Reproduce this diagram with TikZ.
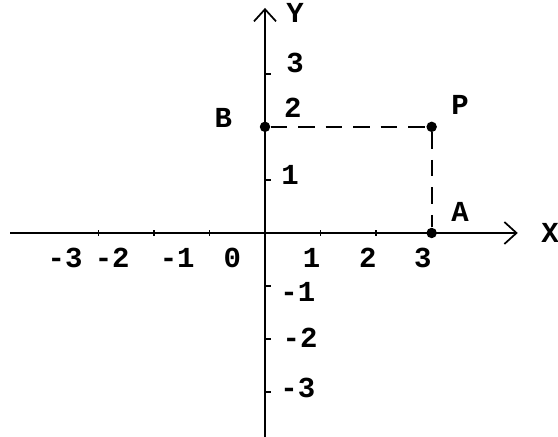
\documentclass[tikz,border=0pt]{standalone}
\usepackage{fontspec}
\setmonofont{Liberation Mono}
\usetikzlibrary{arrows.meta}

\begin{document}
\begin{tikzpicture}[
    x=1.01cm, y=0.965cm,
    axis/.style={line width=0.9pt, -{Straight Barb[length=2.2mm, width=4mm, line width=0.9pt]}},
    guide/.style={line width=0.9pt, dash pattern=on 3mm off 2mm},
    tickmark/.style={line width=0.8pt},
    dot/.style={circle, fill=black, inner sep=0pt, minimum size=1.9mm},
    lbl/.style={font=\ttfamily\bfseries\fontsize{15}{18}\selectfont, inner sep=0pt}
]
    \useasboundingbox (-4.818cm,-3.709cm) rectangle (5.327cm,4.236cm);

    % Axes
    \coordinate (xl) at (-4.59,0);
    \coordinate (xr) at (4.55,0);
    \coordinate (yb) at (0,-3.84);
    \coordinate (yt) at (0,4.24);
    \draw[axis] (xl) -- (xr);
    \draw[axis] (yb) -- (yt);
    \node[lbl] (labX) at (5.13,0) {X};
    \node[lbl] (labY) at (0.54,4.15) {Y};

    % Ticks
    \foreach \i in {-3,-2,-1,1,2}
        \draw[tickmark] (\i,-0.05) -- (\i,0.05);
    \foreach \j in {-3,-2,-1,1,3}
        \draw[tickmark] (0,\j) -- (0.1,\j);

    % Numbers
    \foreach \n/\px [count=\k] in {-3/-3.6, -2/-2.75, -1/-1.58, 0/-0.59, 1/0.84, 2/1.85, 3/2.84}
        \node[lbl] (xnum\k) at (\px,-0.47) {\n};
    \foreach \n/\py/\px [count=\k] in {3/3.2/0.54, 2/2.35/0.5, 1/1.09/0.45, -1/-1.11/0.59, -2/-1.98/0.63, -3/-2.92/0.59}
        \node[lbl] (ynum\k) at (\px,\py) {\n};

    % Points
    \node[dot] (B) at (0,2) {};
    \node[dot] (P) at (3,2) {};
    \node[dot] (A) at (3,0) {};
    \node[lbl] (labA) at (3.51,0.4) {A};
    \node[lbl] (labB) at (-0.75,2.17) {B};
    \node[lbl] (labP) at (3.51,2.41) {P};
    \draw[guide] (B) -- (P) -- (A);
\end{tikzpicture}
\end{document}
